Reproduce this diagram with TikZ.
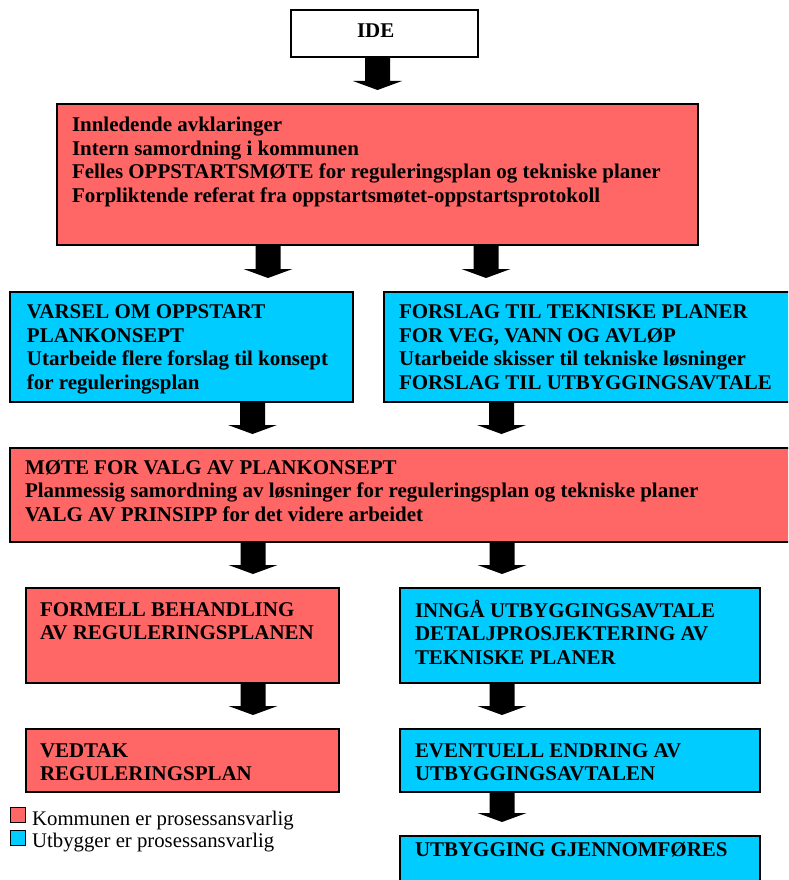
\documentclass[tikz,border=0pt]{standalone}
\usepackage{fontspec}
\setmainfont{Liberation Serif}
\usetikzlibrary{calc}
\definecolor{kred}{HTML}{FF6666}
\definecolor{ublue}{HTML}{00CCFF}
\newcommand\bpad{15pt}
\newcommand\bline[1]{\hbox{\hskip\bpad #1}}
% width, height, first baseline, left pad, lines
\newcommand\btxt[5]{\vbox to #2pt{\def\bpad{#4pt}\baselineskip=23.5pt\lineskiplimit=-100pt\lineskip=0pt\hbox to #1pt{}\vskip\dimexpr#3pt-23.5pt\relax #5\vss}}
% block arrow: source node, x position, target node
\newcommand\blk[3]{\fill[black] let \p1=(#1.south), \p2=(#3.north) in
  ({#2pt-12.5pt},\y1) -- ({#2pt+12.5pt},\y1) -- ({#2pt+12.5pt},{\y2+23pt}) -- ({#2pt+24.5pt},{\y2+23pt})
  -- ({#2pt},{\y2+14pt}) -- ({#2pt-24.5pt},{\y2+23pt}) -- ({#2pt-12.5pt},{\y2+23pt}) -- cycle;}
\tikzset{
  fbox/.style={draw=black, line width=2pt, inner sep=0pt, outer sep=0pt, anchor=north west,
    font=\bfseries\fontsize{20.95}{23.5}\selectfont},
  rbox/.style={fbox, fill=kred},
  bbox/.style={fbox, fill=ublue},
  wbox/.style={fbox, fill=white},
  legsq/.style={draw=black, line width=0.8pt, inner sep=0pt, outer sep=0pt, minimum width=15pt, minimum height=15pt, anchor=north west},
  legtx/.style={anchor=base west, inner sep=0pt, font=\fontsize{20.75}{23.5}\selectfont}
}
\begin{document}
\begin{tikzpicture}[x=1pt,y=-1pt]
\useasboundingbox (0,0) rectangle (788,880);
\clip (0,0) rectangle (788,880);
\node[wbox] (ide) at (291,10) {\btxt{187}{47}{28}{66}{\bline{IDE}}};
\node[rbox] (b1) at (57,104) {\btxt{641}{141}{27.5}{15}{%
  \bline{Innledende avklaringer}\bline{Intern samordning i kommunen}%
  \bline{Felles OPPSTARTSMØTE for reguleringsplan og tekniske planer}%
  \bline{Forpliktende referat fra oppstartsmøtet-oppstartsprotokoll}}};
\node[bbox] (vr) at (10,292) {\btxt{343}{110}{26.5}{17}{%
  \bline{VARSEL OM OPPSTART}\bline{PLANKONSEPT}%
  \bline{Utarbeide flere forslag til konsept}\bline{for reguleringsplan}}};
\node[bbox] (fo) at (384,292) {\btxt{420}{110}{26.5}{15}{%
  \bline{FORSLAG TIL TEKNISKE PLANER}\bline{FOR VEG, VANN OG AVLØP}%
  \bline{Utarbeide skisser til tekniske løsninger}\bline{FORSLAG TIL UTBYGGINGSAVTALE}}};
\node[rbox] (mo) at (10,448) {\btxt{800}{94}{26}{15}{%
  \bline{MØTE FOR VALG AV PLANKONSEPT}%
  \bline{Planmessig samordning av løsninger for reguleringsplan og tekniske planer}%
  \bline{VALG AV PRINSIPP for det videre arbeidet}}};
\node[rbox] (fb) at (26,588) {\btxt{313}{95}{28}{14}{%
  \bline{FORMELL BEHANDLING}\bline{AV REGULERINGSPLANEN}}};
\node[rbox] (ve) at (26,729) {\btxt{313}{63}{28}{14}{%
  \bline{VEDTAK}\bline{REGULERINGSPLAN}}};
\node[bbox] (in) at (400,588) {\btxt{360}{95}{29}{15}{%
  \bline{INNGÅ UTBYGGINGSAVTALE}\bline{DETALJPROSJEKTERING AV}\bline{TEKNISKE PLANER}}};
\node[bbox] (ev) at (400,729) {\btxt{360}{63}{28}{15}{%
  \bline{EVENTUELL ENDRING AV}\bline{UTBYGGINGSAVTALEN}}};
\node[bbox] (ut) at (400,836) {\btxt{360}{60}{20}{15}{%
  \bline{UTBYGGING GJENNOMFØRES}}};
\blk{ide}{377.5}{b1}
\blk{b1}{268}{vr}
\blk{b1}{486}{fo}
\blk{vr}{252.5}{mo}
\blk{fo}{501.5}{mo}
\blk{mo}{253}{fb}
\blk{mo}{502}{in}
\blk{fb}{253}{ve}
\blk{in}{502}{ev}
\blk{ev}{502}{ut}
\node[legsq, fill=kred] (lk) at (10,807) {};
\node[legsq, fill=ublue] (lu) at (10,830.5) {};
\node[legtx] (lkt) at (32,825) {Kommunen er prosessansvarlig};
\node[legtx] (lut) at (32,847) {Utbygger er prosessansvarlig};
\end{tikzpicture}
\end{document}
